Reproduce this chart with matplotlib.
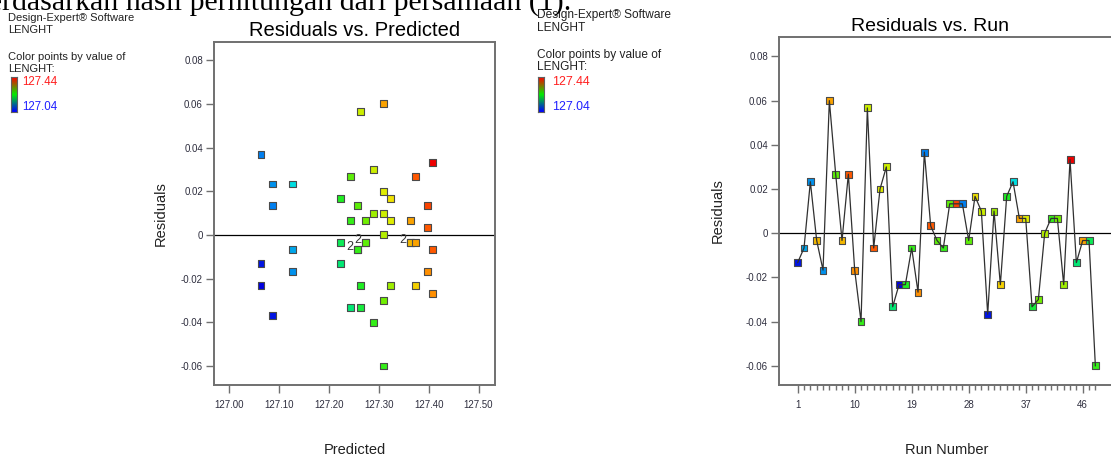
import matplotlib
matplotlib.use("Agg")
import matplotlib.pyplot as plt
import numpy as np
from collections import Counter
from matplotlib.colors import LinearSegmentedColormap, Normalize
from matplotlib.ticker import FixedLocator

plt.rcParams['font.family'] = ['Liberation Sans', 'DejaVu Sans']

# ---------------------------------------------------------------
# Diagnostics data (48 runs)
# ---------------------------------------------------------------
runs = list(range(1, 49))

predicted = [127.0633, 127.1267, 127.0867, 127.3633, 127.1267, 127.3100,
             127.2433, 127.3633, 127.3733, 127.3967, 127.2900, 127.2633,
             127.4067, 127.3100, 127.2900, 127.2433, 127.0633, 127.2633,
             127.2567, 127.4067, 127.0633, 127.3967, 127.2733, 127.2567,
             127.2567, 127.3967, 127.0867, 127.2733, 127.3233, 127.3100,
             127.0867, 127.2900, 127.3733, 127.2233, 127.1267, 127.3633,
             127.3233, 127.2633, 127.3100, 127.3100, 127.2433, 127.2733,
             127.3233, 127.4067, 127.2233, 127.3733, 127.2233, 127.3100]

residuals = [-0.0133, -0.0067, 0.0233, -0.0033, -0.0167, 0.0600,
             0.0267, -0.0033, 0.0267, -0.0167, -0.0400, 0.0567,
             -0.0067, 0.0200, 0.0300, -0.0333, -0.0233, -0.0233,
             -0.0067, -0.0267, 0.0367, 0.0033, -0.0033, -0.0067,
             0.0133, 0.0133, 0.0133, -0.0033, 0.0167, 0.0100,
             -0.0367, 0.0100, -0.0233, 0.0167, 0.0233, 0.0067,
             0.0067, -0.0333, -0.0300, 0.0000, 0.0067, 0.0067,
             -0.0233, 0.0333, -0.0133, -0.0033, -0.0033, -0.0600]

lenght = [127.05, 127.12, 127.11, 127.36, 127.11, 127.37, 127.27, 127.36,
          127.40, 127.38, 127.25, 127.32, 127.40, 127.33, 127.32, 127.21,
          127.04, 127.24, 127.25, 127.38, 127.10, 127.40, 127.27, 127.25,
          127.27, 127.41, 127.10, 127.27, 127.34, 127.32, 127.05, 127.30,
          127.35, 127.24, 127.15, 127.37, 127.33, 127.23, 127.28, 127.31,
          127.25, 127.28, 127.30, 127.44, 127.21, 127.37, 127.22, 127.25]

LEN_MIN, LEN_MAX = 127.04, 127.44
run_ticks = [1, 10, 19, 28, 37, 46]
pred_ticks = [127.00, 127.10, 127.20, 127.30, 127.40, 127.50]
res_ticks = [-0.06, -0.04, -0.02, 0, 0.02, 0.04, 0.06, 0.08]

# point colours: blue -> cyan -> green -> yellow -> orange -> red
point_cmap = LinearSegmentedColormap.from_list("lenght", [
    (0.00, "#0000e0"), (0.15, "#0080f0"), (0.275, "#00dde0"),
    (0.42, "#00e878"), (0.50, "#20ee20"), (0.60, "#70ee00"),
    (0.72, "#dcee00"), (0.76, "#f4e000"), (0.80, "#f4b800"),
    (0.85, "#ff9000"), (0.90, "#ff5a00"), (1.00, "#ee0000")])
bar_cmap = LinearSegmentedColormap.from_list("bar", ["#0000ff", "#00ee00", "#ff0000"])
norm = Normalize(LEN_MIN, LEN_MAX)
point_colors = point_cmap(norm(np.array(lenght)))

W, H = 1111, 457
fig = plt.figure(figsize=(W / 100, H / 100), dpi=100)


def fx(px):
    return px / W


def fy(py):
    return 1 - py / H


TEXT = "#222222"
TICKLBL = "#2e2e3e"


def style_axes(ax):
    for s in ax.spines.values():
        s.set_color("#707070")
        s.set_linewidth(1.4)
    ax.tick_params(axis="both", which="both", direction="out", color="#707070",
                   labelcolor=TICKLBL, labelsize=7)
    ax.tick_params(axis="y", length=5.5, width=1, pad=2.5)
    ax.tick_params(axis="x", which="major", length=6, width=1, pad=5)
    ax.tick_params(axis="x", which="minor", length=3.5, width=1)
    ax.set_yticks(res_ticks)
    ax.set_yticklabels(["%g" % t for t in res_ticks])
    ax.axhline(0, color="black", lw=0.9, zorder=1)


# ---------------------------------------------------------------
# Residuals vs. Predicted
# ---------------------------------------------------------------
ax1 = fig.add_axes([fx(214), fy(385), fx(281), 343 / H])
style_axes(ax1)
ax1.scatter(predicted, residuals, marker="s", s=25, c=point_colors,
            edgecolors="#4a4a4a", linewidths=0.8, zorder=3)
for (p, r), n in Counter(zip(predicted, residuals)).items():
    if n > 1:
        ax1.annotate(str(n), (p, r), xytext=(-3.2, 1.5), textcoords="offset points",
                     ha="right", va="center", fontsize=9, color="#333333", zorder=4)
ax1.set_xlim(126.969, 127.533)
ax1.set_ylim(-0.0687, 0.0883)
ax1.set_xticks(pred_ticks)
ax1.set_xticklabels(["%.2f" % t for t in pred_ticks])
ax1.set_title("Residuals vs. Predicted", fontsize=14.5, pad=4, color="black")
ax1.set_xlabel("Predicted", fontsize=10.5, color=TEXT)
ax1.set_ylabel("Residuals", fontsize=10.5, color=TEXT)
ax1.xaxis.set_label_coords(0.5, -0.168)
ax1.yaxis.set_label_coords(-0.163, 0.5)

# ---------------------------------------------------------------
# Residuals vs. Run
# ---------------------------------------------------------------
ax2 = fig.add_axes([fx(779), fy(385), fx(336), 348 / H])
style_axes(ax2)
ax2.spines["right"].set_visible(False)
ax2.scatter(runs, residuals, marker="s", s=25, c=point_colors,
            edgecolors="#4a4a4a", linewidths=0.8, zorder=2)
ax2.plot(runs, residuals, color="#303030", lw=0.9, zorder=3)
ax2.set_xlim(-1.95, 51.1)
ax2.set_ylim(-0.0687, 0.0888)
ax2.set_xticks(run_ticks)
ax2.xaxis.set_minor_locator(FixedLocator(runs))
ax2.set_title("Residuals vs. Run", fontsize=14, pad=4, x=0.45, color="black")
ax2.set_xlabel("Run Number", fontsize=10.5, color=TEXT)
ax2.set_ylabel("Residuals", fontsize=10.5, color=TEXT)
ax2.xaxis.set_label_coords(0.5, -0.166)
ax2.yaxis.set_label_coords(-0.161, 0.5)


# ---------------------------------------------------------------
# Software header + colour key for each panel
# ---------------------------------------------------------------
def color_key(x, lines_y, bar_x, bar_w, lbl_x, size):
    texts = ["Design-Expert® Software", "LENGHT", "Color points by value of", "LENGHT:"]
    for t, y in zip(texts, lines_y):
        fig.text(fx(x), fy(y), t, fontsize=size, color=TEXT, va="center", ha="left")
    bax = fig.add_axes([fx(bar_x), fy(112), fx(bar_w), 35 / H])
    bax.imshow(np.linspace(1, 0, 64).reshape(-1, 1), aspect="auto", cmap=bar_cmap)
    bax.set_xticks([])
    bax.set_yticks([])
    for s in bax.spines.values():
        s.set_color("#606060")
        s.set_linewidth(0.8)
    fig.text(fx(lbl_x), fy(82), "%.2f" % LEN_MAX, fontsize=size + 0.3, color="#ff2020",
             va="center", ha="left")
    fig.text(fx(lbl_x), fy(107), "%.2f" % LEN_MIN, fontsize=size + 0.3, color="#2020ff",
             va="center", ha="left")


color_key(8, [18, 30, 57, 69], 11, 6, 22, 8)
color_key(537, [15, 28, 55, 67], 538, 6, 552, 8.6)

# running text cut off at the top edge
fig.text(fx(571), fy(10), "berdasarkan hasil perhitungan dari persamaan (1).",
         ha="right", va="baseline", fontsize=21.5, family="Liberation Serif", color="black")

fig.savefig("out.png", dpi=100)
